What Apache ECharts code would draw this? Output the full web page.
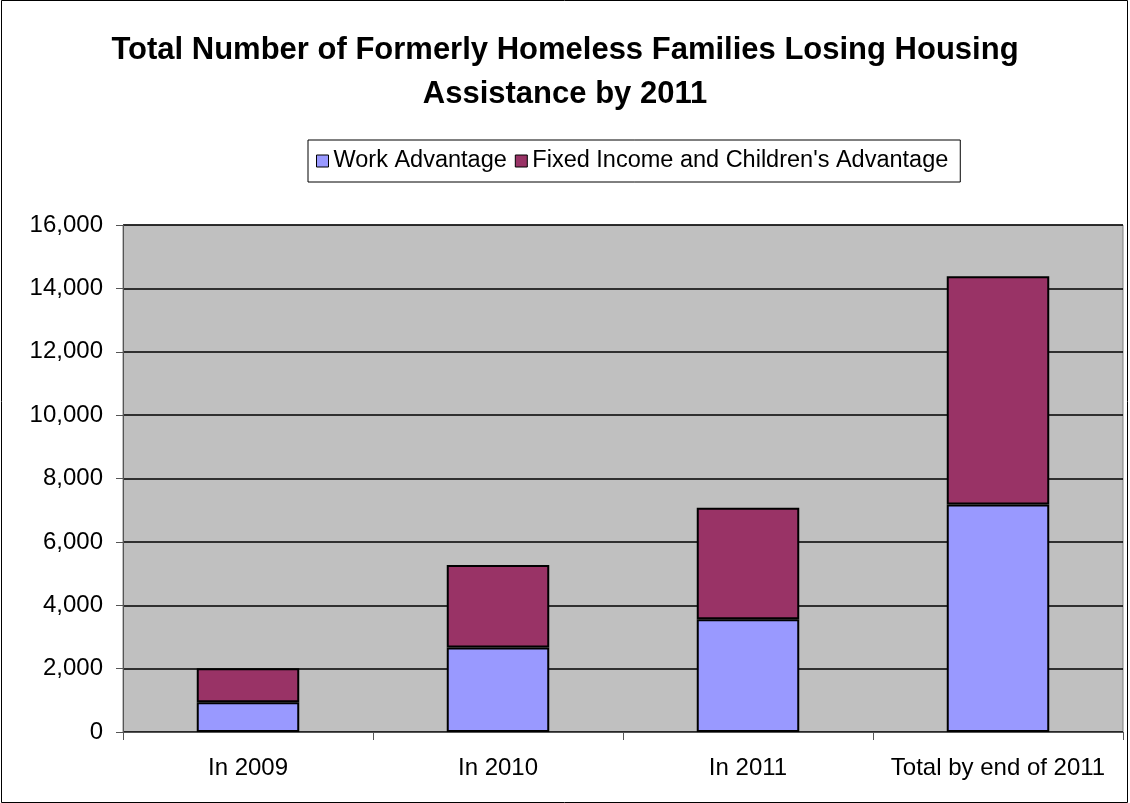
<!DOCTYPE html>
<html>
<head>
<meta charset="utf-8">
<script src="https://cdn.jsdelivr.net/npm/echarts@6/dist/echarts.min.js"></script>
<style>
  html, body { margin: 0; padding: 0; background: #fff; }
  #main { width: 1130px; height: 803px; }
</style>
</head>
<body>
<div id="main"></div>
<script>
var categories = ['In 2009', 'In 2010', 'In 2011', 'Total by end of 2011'];
var workAdvantage = [940, 2670, 3560, 7180];
var fixedIncome = [1070, 2600, 3520, 7200];
var yTicks = [0, 2000, 4000, 6000, 8000, 10000, 12000, 14000, 16000];

var chartDom = document.getElementById('main');
var myChart = echarts.init(chartDom);
var option;

var barBorder = { borderColor: '#000', borderWidth: 2 };

option = {
  backgroundColor: '#fff',
  textStyle: { fontFamily: 'Liberation Sans, Arial, sans-serif' },
  title: {
    text: 'Total Number of Formerly Homeless Families Losing Housing\nAssistance by 2011',
    left: 'center',
    top: 23,
    textStyle: {
      fontSize: 31,
      fontWeight: 'bold',
      color: '#000',
      lineHeight: 44
    }
  },
  legend: {
    top: 140,
    left: 308,
    data: ['Work Advantage', 'Fixed Income and Children\'s Advantage'],
    icon: 'rect',
    itemWidth: 12,
    itemHeight: 12,
    itemGap: 8,
    padding: [9, 12, 9, 8],
    borderColor: '#000',
    borderWidth: 1,
    textStyle: { fontSize: 23.5, color: '#000' },
    itemStyle: { borderColor: '#000', borderWidth: 1 }
  },
  grid: {
    left: 123,
    right: 7,
    top: 225,
    bottom: 71,
    show: true,
    backgroundColor: '#c0c0c0',
    borderColor: '#808080',
    borderWidth: 1
  },
  xAxis: {
    type: 'category',
    data: categories,
    axisLine: { lineStyle: { color: '#555', width: 1 } },
    axisTick: { show: true, length: 8, lineStyle: { color: '#555' } },
    axisLabel: { fontSize: 24, color: '#000', margin: 24, interval: 0, hideOverlap: false }
  },
  yAxis: {
    type: 'value',
    min: yTicks[0],
    max: yTicks[yTicks.length - 1],
    interval: 2000,
    axisLine: { show: true, lineStyle: { color: '#555', width: 1 } },
    axisTick: { show: true, length: 7, lineStyle: { color: '#555' } },
    axisLabel: {
      fontSize: 24,
      color: '#000',
      margin: 20,
      formatter: function (v) { return v.toLocaleString('en-US'); }
    },
    splitLine: { lineStyle: { color: '#000', width: 1.5 } }
  },
  series: [
    {
      name: 'Work Advantage',
      type: 'bar',
      stack: 'total',
      barWidth: '41%',
      itemStyle: Object.assign({ color: '#9999ff' }, barBorder),
      data: workAdvantage
    },
    {
      name: 'Fixed Income and Children\'s Advantage',
      type: 'bar',
      stack: 'total',
      barWidth: '41%',
      itemStyle: Object.assign({ color: '#993366' }, barBorder),
      data: fixedIncome
    }
  ],
  graphic: [
    {
      type: 'rect',
      shape: { x: 1.5, y: 0.5, width: 1126, height: 802 },
      style: { fill: 'none', stroke: '#000', lineWidth: 1 },
      silent: true
    }
  ]
};

option && myChart.setOption(option);
</script>
</body>
</html>
